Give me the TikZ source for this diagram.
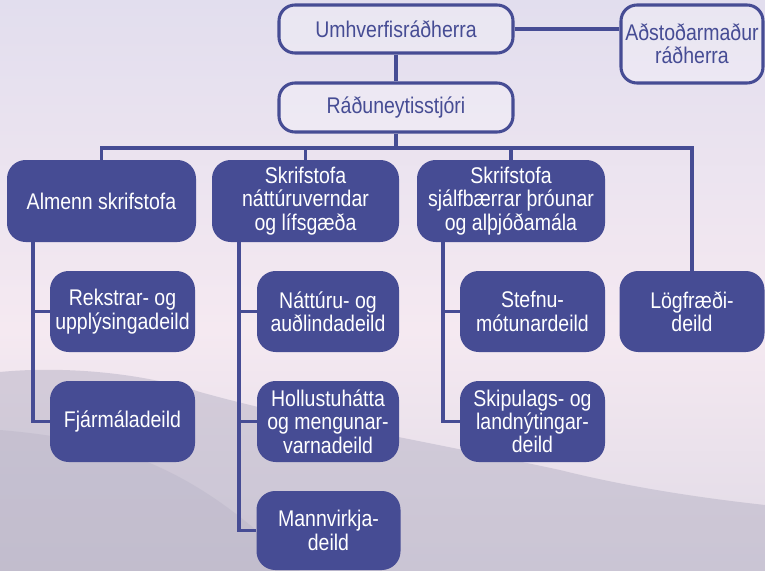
\documentclass[tikz,border=0pt]{standalone}
\usepackage{fontspec}
\setmainfont{Liberation Sans}[FakeStretch=0.86]
\definecolor{navy}{RGB}{70,76,148}
\definecolor{skytop}{RGB}{226,222,238}
\definecolor{skymid}{RGB}{245,233,241}
\definecolor{skybot}{RGB}{224,218,230}
\definecolor{hill}{RGB}{176,172,192}
\begin{document}
\begin{tikzpicture}[x=0.75pt,y=-0.75pt,
  conn/.style={draw=navy,line width=2.3pt},
  topbox/.style={draw=navy,line width=2.3pt,fill=white,fill opacity=0.25,text opacity=1,text=navy,rounded corners=12pt,inner sep=0pt,align=center,font=\fontsize{17}{17.5}\selectfont},
  darkbox/.style={fill=navy,text=white,rounded corners=14pt,inner sep=0pt,align=center,font=\fontsize{17}{17.5}\selectfont},
  rowbox/.style={darkbox,minimum height=61.5pt},
  subbox/.style={darkbox,minimum width=108.75pt,minimum height=60.75pt}
]
% background
\useasboundingbox (0,0) rectangle (765,571);
\shade[top color=skytop,bottom color=skymid] (0,0) rectangle (765,330);
\shade[top color=skymid,bottom color=skybot] (0,330) rectangle (765,571);
\fill[hill,opacity=0.45] (0,372) .. controls (60,366) and (140,372) .. (200,392)
  .. controls (300,420) and (420,440) .. (560,470) .. controls (640,490) and (720,500) .. (765,505)
  -- (765,571) -- (0,571) -- cycle;
\fill[hill,opacity=0.3] (0,430) .. controls (120,440) and (200,470) .. (300,571) -- (0,571) -- cycle;

% nodes
\node[topbox,minimum width=175.5pt,minimum height=36pt] (um) at (396,29) {Umhverfisráðherra};
\node[topbox,minimum width=175.5pt,minimum height=36.75pt] (ra) at (396,107.5) {Ráðuneytisstjóri};
\node[topbox,minimum width=106.5pt,minimum height=58.5pt] (ad) at (692,44) {Aðstoðarmaður\\ráðherra};

\node[rowbox,minimum width=141.75pt] (al) at (101.5,201) {Almenn skrifstofa};
\node[rowbox,minimum width=140.25pt] (sn) at (305.5,201) {Skrifstofa\\náttúruverndar\\og lífsgæða};
\node[rowbox,minimum width=141pt] (ss) at (511,201) {Skrifstofa\\sjálfbærrar þróunar\\og alþjóðamála};
\node[subbox] (lo) at (692,311.5) {Lögfræði-\\deild};

\node[subbox] (re) at (122.5,311.5) {Rekstrar- og\\upplýsingadeild};
\node[subbox] (fj) at (122.5,421.5) {Fjármáladeild};
\node[subbox,minimum width=106.5pt] (na) at (328,311.5) {Náttúru- og\\auðlindadeild};
\node[subbox,minimum width=106.5pt] (ho) at (328,421.5) {Hollustuhátta\\og mengunar-\\varnadeild};
\node[subbox,minimum width=108pt,minimum height=59.25pt] (ma) at (328.5,530.5) {Mannvirkja-\\deild};
\node[subbox] (st) at (532.5,311.5) {Stefnu-\\mótunardeild};
\node[subbox] (sk) at (532.5,421.5) {Skipulags- og\\landnýtingar-\\deild};

% connectors
\coordinate (bus) at (396,148);
\coordinate (t1) at (33,0);
\coordinate (t2) at (239,0);
\coordinate (t3) at (443,0);
\draw[conn] (um.south) -- (ra.north);
\draw[conn] (um.east) -- (um.east -| ad.west);
\draw[conn] (ra.south) -- (ra.south |- bus);
\draw[conn] (al.north) -- (al.north |- bus) -- (lo.north |- bus) -- (lo.north);
\draw[conn] (sn.north) -- (sn.north |- bus);
\draw[conn] (ss.north) -- (ss.north |- bus);
\draw[conn] (al.south -| t1) |- (re.west);
\draw[conn] (al.south -| t1) |- (fj.west);
\draw[conn] (sn.south -| t2) |- (na.west);
\draw[conn] (sn.south -| t2) |- (ho.west);
\draw[conn] (sn.south -| t2) |- (ma.west);
\draw[conn] (ss.south -| t3) |- (st.west);
\draw[conn] (ss.south -| t3) |- (sk.west);
\end{tikzpicture}
\end{document}
